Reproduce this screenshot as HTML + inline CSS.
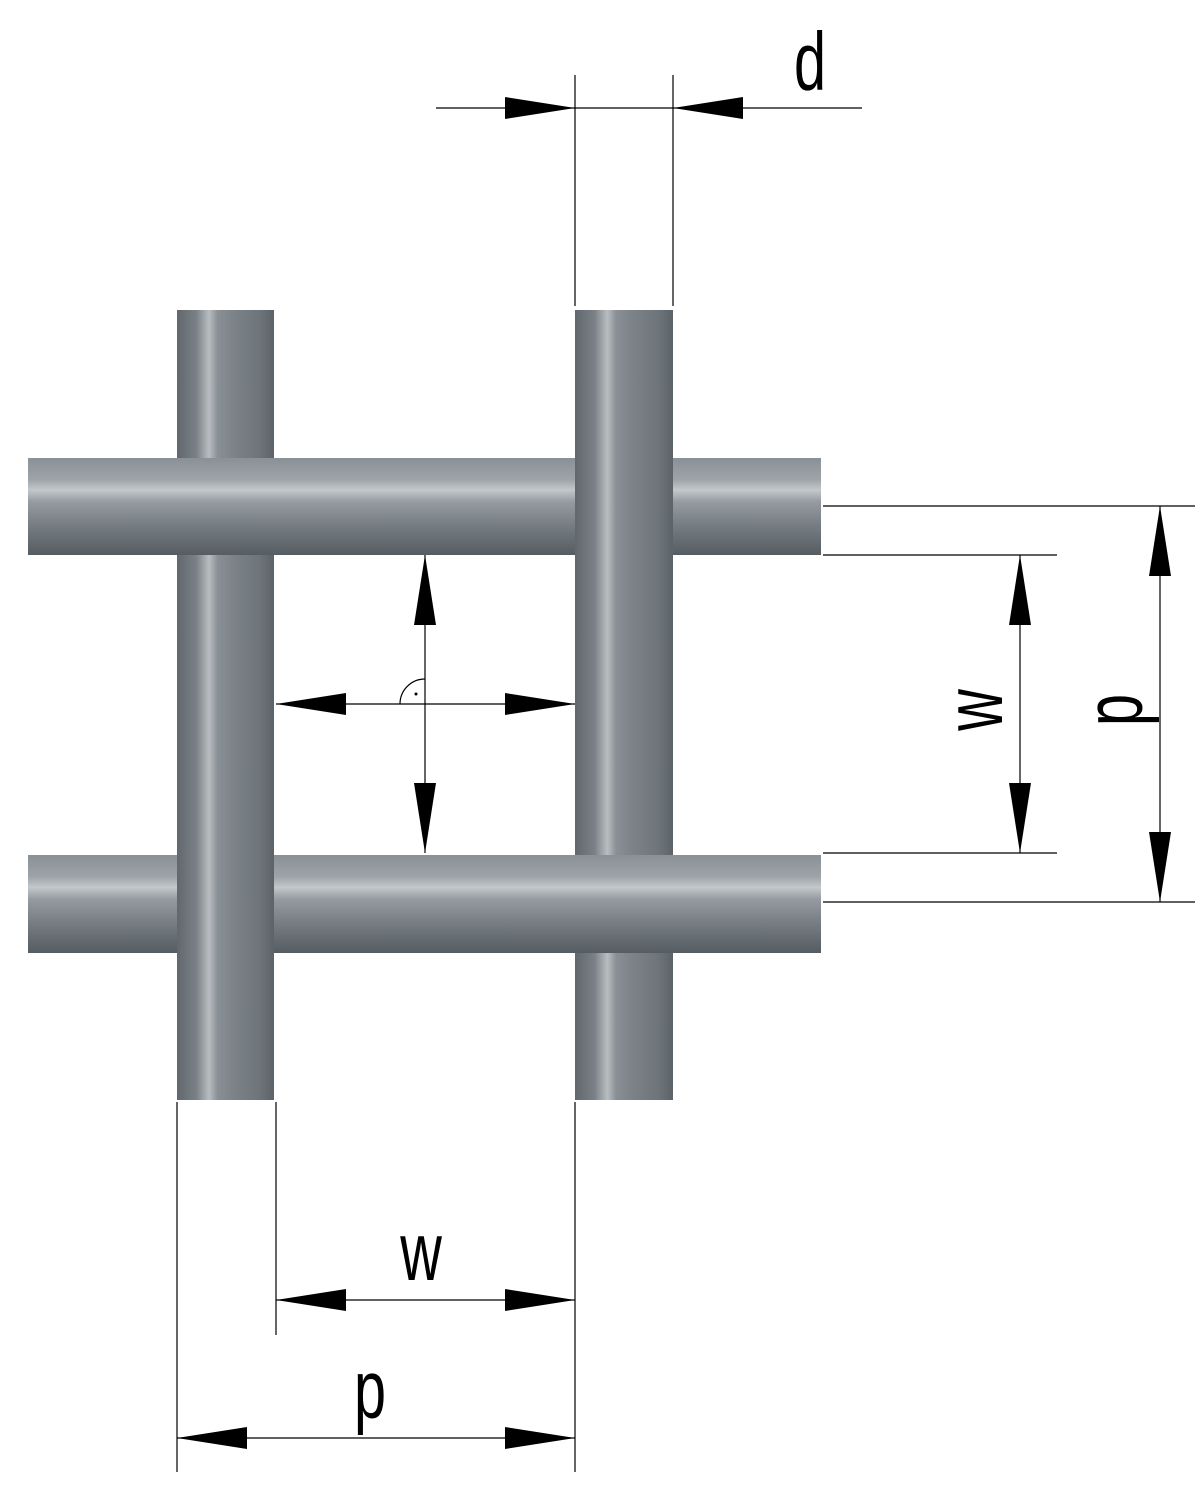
<!DOCTYPE html>
<html><head><meta charset="utf-8"><style>
html,body{margin:0;padding:0;background:#fff;}
svg{display:block;}
text{font-family:"Liberation Sans Narrow","Liberation Sans",sans-serif;font-size:72px;fill:#000;}
</style></head><body>
<svg width="1200" height="1487" viewBox="0 0 1200 1487" xmlns="http://www.w3.org/2000/svg">
<defs>
<linearGradient id="gv" x1="0" y1="0" x2="1" y2="0">
<stop offset="0" stop-color="#61686d"/>
<stop offset="0.2" stop-color="#7a8186"/>
<stop offset="0.33" stop-color="#b8bdc0"/>
<stop offset="0.42" stop-color="#899095"/>
<stop offset="0.6" stop-color="#7b8287"/>
<stop offset="0.85" stop-color="#6e757a"/>
<stop offset="1" stop-color="#5c6368"/>
</linearGradient>
<linearGradient id="gh" x1="0" y1="0" x2="0" y2="1">
<stop offset="0" stop-color="#8a9196"/>
<stop offset="0.22" stop-color="#9da3a7"/>
<stop offset="0.33" stop-color="#c3c8cb"/>
<stop offset="0.45" stop-color="#959ba0"/>
<stop offset="0.7" stop-color="#767d82"/>
<stop offset="1" stop-color="#565d62"/>
</linearGradient>
<clipPath id="c2"><rect x="560" y="440" width="130" height="130"/></clipPath>
<clipPath id="c1"><rect x="160" y="840" width="130" height="130"/></clipPath>
</defs>
<rect x="177" y="310" width="97" height="790" fill="url(#gv)"/>
<rect x="575" y="310" width="98" height="790" fill="url(#gv)"/>
<rect x="28" y="458" width="793" height="97" fill="url(#gh)"/>
<rect x="575" y="310" width="98" height="790" fill="url(#gv)" clip-path="url(#c2)"/>
<rect x="28" y="855" width="793" height="98" fill="url(#gh)"/>
<rect x="177" y="310" width="97" height="790" fill="url(#gv)" clip-path="url(#c1)"/>

<g stroke="#000" stroke-width="1.2" fill="none">
<line x1="436" y1="108" x2="862" y2="108"/>
<line x1="575" y1="75" x2="575" y2="306"/>
<line x1="673" y1="75" x2="673" y2="306"/>
<line x1="823" y1="506" x2="1195" y2="506"/>
<line x1="823" y1="555" x2="1057" y2="555"/>
<line x1="823" y1="853" x2="1057" y2="853"/>
<line x1="823" y1="902" x2="1195" y2="902"/>
<line x1="1020" y1="555" x2="1020" y2="853"/>
<line x1="1160" y1="506" x2="1160" y2="902"/>
<line x1="177" y1="1102" x2="177" y2="1472"/>
<line x1="276" y1="1102" x2="276" y2="1335"/>
<line x1="575" y1="1102" x2="575" y2="1472"/>
<line x1="276" y1="1300" x2="575" y2="1300"/>
<line x1="177" y1="1438" x2="575" y2="1438"/>
<line x1="276" y1="704" x2="575" y2="704"/>
<line x1="425" y1="555" x2="425" y2="853"/>
<path d="M400 704 A25 25 0 0 1 425 679"/>
</g>
<circle cx="416" cy="694" r="1.5" fill="#000"/>
<g fill="#000">
<polygon points="505,97 575,108 505,119"/>
<polygon points="743,97 673,108 743,119"/>
<polygon points="1009,625 1020,555 1031,625"/>
<polygon points="1009,783 1020,853 1031,783"/>
<polygon points="1149,576 1160,506 1171,576"/>
<polygon points="1149,832 1160,902 1171,832"/>
<polygon points="346,1289 276,1300 346,1311"/>
<polygon points="505,1289 575,1300 505,1311"/>
<polygon points="247,1427 177,1438 247,1449"/>
<polygon points="505,1427 575,1438 505,1449"/>
<polygon points="346,693 276,704 346,715"/>
<polygon points="505,693 575,704 505,715"/>
<polygon points="414,625 425,555 436,625"/>
<polygon points="414,783 425,853 436,783"/>
</g>
<text transform="translate(810,90) scale(0.8,1.15)" text-anchor="middle">d</text>
<text transform="translate(421,1280) scale(0.8,1.15)" text-anchor="middle">w</text>
<text transform="translate(370,1418) scale(0.8,1.15)" text-anchor="middle">p</text>
<text transform="translate(1002,710) rotate(-90) scale(0.8,1.15)" text-anchor="middle">w</text>
<text transform="translate(1142,710) rotate(-90) scale(0.8,1.15)" text-anchor="middle">p</text>
</svg>
</body></html>
